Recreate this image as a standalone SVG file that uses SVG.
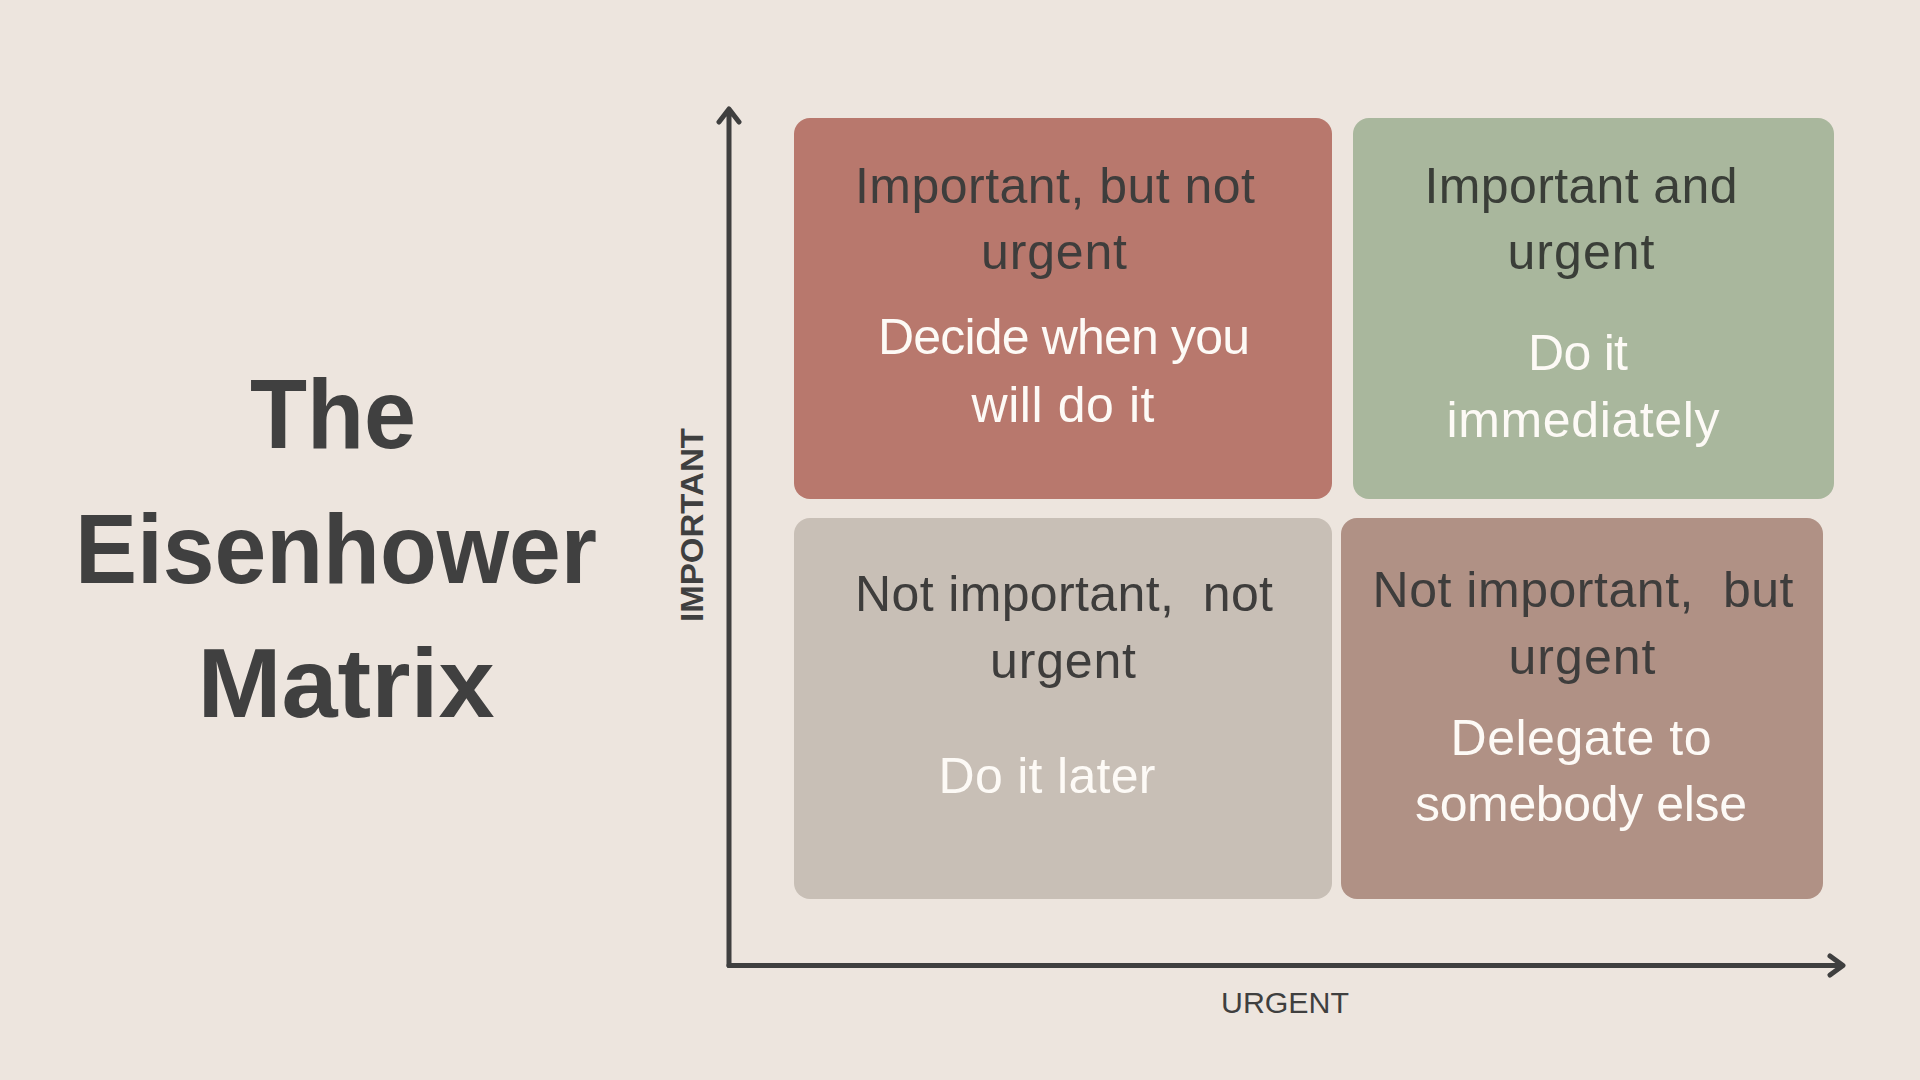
<svg xmlns="http://www.w3.org/2000/svg" width="1920" height="1080" viewBox="0 0 1920 1080">
<style>
.bg{fill:#ede5de}
.title{font-family:"Liberation Sans",Arial,sans-serif;font-weight:bold;font-size:98px;fill:#404040;text-anchor:middle}
.lbl{font-family:"Liberation Sans",Arial,sans-serif;font-size:50px;text-anchor:middle}
.dk{fill:#3e3d3c}
.dkg{fill:#3a3e38}
.wt{fill:#fdfaf6}
.axis{fill:none;stroke:#3f3f3f;stroke-width:5;stroke-linecap:round;stroke-linejoin:round}
.axlbl{font-family:"Liberation Sans",Arial,sans-serif;font-size:30px;fill:#3f3f3f;text-anchor:middle}
.axlblb{font-family:"Liberation Sans",Arial,sans-serif;font-weight:bold;font-size:32px;fill:#3f3f3f;text-anchor:middle}
</style>
<rect class="bg" x="0" y="0" width="1920" height="1080"/>

<g id="title">
<text class="title" x="333" y="448" textLength="166" lengthAdjust="spacingAndGlyphs">The</text>
<text class="title" x="336" y="583" textLength="522" lengthAdjust="spacingAndGlyphs">Eisenhower</text>
<text class="title" x="346" y="717" textLength="297" lengthAdjust="spacingAndGlyphs">Matrix</text>
</g>

<g id="connectors">
<path class="axis" d="M729,965.5 V110 M719,122 L729,109 L739,122"/>
<path class="axis" d="M729,965.5 H1841 M1830,956 L1843,965.5 L1830,975"/>
</g>

<g id="axis-labels">
<text class="axlblb" transform="translate(703,525) rotate(-90)" textLength="194" lengthAdjust="spacingAndGlyphs">IMPORTANT</text>
<text class="axlbl" x="1285" y="1013" textLength="128" lengthAdjust="spacingAndGlyphs">URGENT</text>
</g>

<g id="q-important-not-urgent">
<rect x="794" y="118" width="538" height="381" rx="16" fill="#b8786d"/>
<text class="lbl dk" x="1055" y="203" textLength="400" lengthAdjust="spacing">Important, but not</text>
<text class="lbl dk" x="1054" y="269" textLength="146" lengthAdjust="spacing">urgent</text>
<text class="lbl wt" x="1064" y="354" textLength="372" lengthAdjust="spacing">Decide when you</text>
<text class="lbl wt" x="1063" y="422" textLength="183" lengthAdjust="spacing">will do it</text>
</g>

<g id="q-important-urgent">
<rect x="1353" y="118" width="481" height="381" rx="16" fill="#a9b79d"/>
<text class="lbl dkg" x="1581" y="203" textLength="313" lengthAdjust="spacing">Important and</text>
<text class="lbl dkg" x="1581" y="269" textLength="147" lengthAdjust="spacing">urgent</text>
<text class="lbl wt" x="1578" y="370" textLength="100" lengthAdjust="spacing">Do it</text>
<text class="lbl wt" x="1583" y="437" textLength="273" lengthAdjust="spacing">immediately</text>
</g>

<g id="q-not-important-not-urgent">
<rect x="794" y="518" width="538" height="381" rx="16" fill="#c8bfb6"/>
<text class="lbl dk" x="1064" y="611" textLength="418" lengthAdjust="spacing" xml:space="preserve">Not important,  not</text>
<text class="lbl dk" x="1063" y="678" textLength="146" lengthAdjust="spacing">urgent</text>
<text class="lbl wt" x="1047" y="793" textLength="217" lengthAdjust="spacing">Do it later</text>
</g>

<g id="q-not-important-urgent">
<rect x="1341" y="518" width="482" height="381" rx="16" fill="#b09185"/>
<text class="lbl dk" x="1583" y="607" textLength="421" lengthAdjust="spacing" xml:space="preserve">Not important,  but</text>
<text class="lbl dk" x="1582" y="674" textLength="147" lengthAdjust="spacing">urgent</text>
<text class="lbl wt" x="1581" y="755" textLength="261" lengthAdjust="spacing">Delegate to</text>
<text class="lbl wt" x="1581" y="821" textLength="332" lengthAdjust="spacing">somebody else</text>
</g>
</svg>
